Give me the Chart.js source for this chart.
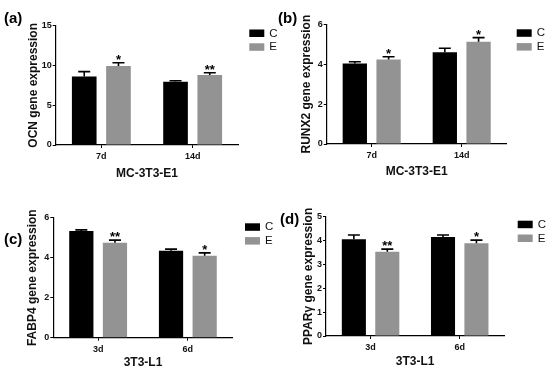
<!DOCTYPE html>
<html>
<head>
<meta charset="utf-8">
<script src="https://cdn.jsdelivr.net/npm/chart.js@4.4.1/dist/chart.umd.min.js"></script>
<style>
  html, body { margin: 0; padding: 0; background: #fff; }
  #wrap { position: relative; width: 554px; height: 378px; overflow: hidden; background: #fff; }
  canvas { position: absolute; }
</style>
</head>
<body>
<div id="wrap">
  <canvas id="pa" width="277" height="189" style="left:0;top:0"></canvas>
  <canvas id="pb" width="277" height="189" style="left:277px;top:0"></canvas>
  <canvas id="pc" width="277" height="189" style="left:0;top:189px"></canvas>
  <canvas id="pd" width="277" height="189" style="left:277px;top:189px"></canvas>
</div>
<script>
// ---------- DATA ----------
const seriesNames = ['C', 'E'];

// (a) OCN, MC-3T3-E1
const catsA = ['7d', '14d'];
const ctrlA = [8.6, 7.95];
const ctrlErrA = [0.62, 0.13];
const expA = [9.94, 8.8];
const expErrA = [0.41, 0.28];
const sigA = ['*', '**'];
const yTicksA = [0, 5, 10, 15];

// (b) RUNX2, MC-3T3-E1
const catsB = ['7d', '14d'];
const ctrlB = [4.03, 4.6];
const ctrlErrB = [0.09, 0.2];
const expB = [4.24, 5.13];
const expErrB = [0.13, 0.2];
const sigB = ['*', '*'];
const yTicksB = [0, 2, 4, 6];

// (c) FABP4, 3T3-L1
const catsC = ['3d', '6d'];
const ctrlC = [5.33, 4.35];
const ctrlErrC = [0.06, 0.08];
const expC = [4.75, 4.1];
const expErrC = [0.13, 0.14];
const sigC = ['**', '*'];
const yTicksC = [0, 2, 4, 6];

// (d) PPARγ, 3T3-L1
const catsD = ['3d', '6d'];
const ctrlD = [4.05, 4.15];
const ctrlErrD = [0.18, 0.08];
const expD = [3.53, 3.89];
const expErrD = [0.11, 0.13];
const sigD = ['**', '*'];
const yTicksD = [0, 1, 2, 3, 4, 5];

// ---------- STYLE ----------
const FONT = "'Liberation Sans', Arial, Helvetica, sans-serif";
const COL_C = '#000000';
const COL_E = '#939393';
const TXT = '#111111';

// error bars + significance marks
const errorBarPlugin = {
  id: 'errorBars',
  afterDatasetsDraw(chart) {
    const ctx = chart.ctx;
    const ys = chart.scales.y;
    ctx.save();
    chart.data.datasets.forEach((ds, i) => {
      const meta = chart.getDatasetMeta(i);
      meta.data.forEach((bar, j) => {
        const v = ds.data[j];
        const e = ds.errors ? ds.errors[j] : 0;
        const yTop = ys.getPixelForValue(v + e);
        const yBar = ys.getPixelForValue(v);
        ctx.strokeStyle = '#000';
        ctx.lineWidth = 1.6;
        ctx.beginPath();
        ctx.moveTo(bar.x, yBar);
        ctx.lineTo(bar.x, yTop);
        ctx.moveTo(bar.x - 6, yTop);
        ctx.lineTo(bar.x + 6, yTop);
        ctx.stroke();
        if (ds.sig && ds.sig[j]) {
          ctx.fillStyle = '#000';
          ctx.font = 'bold 13px ' + FONT;
          ctx.textAlign = 'center';
          ctx.textBaseline = 'alphabetic';
          ctx.fillText(ds.sig[j], bar.x, yTop + 1);
        }
      });
    });
    ctx.restore();
  }
};

// legend at the right + panel letter
const sideLegendPlugin = {
  id: 'sideLegend',
  afterDraw(chart, args, opts) {
    const ctx = chart.ctx;
    const ca = chart.chartArea;
    ctx.save();
    chart.data.datasets.forEach((ds, i) => {
      const bx = ca.right + opts.dx;
      const by = ca.top + opts.dy + i * 13.8;
      ctx.fillStyle = ds.backgroundColor;
      ctx.fillRect(bx, by, 15, 7.5);
      ctx.fillStyle = TXT;
      ctx.font = '11.5px ' + FONT;
      ctx.textAlign = 'left';
      ctx.textBaseline = 'middle';
      ctx.fillText(ds.label, bx + 20, by + 4);
    });
    ctx.fillStyle = '#000';
    ctx.font = 'bold 15px ' + FONT;
    ctx.textAlign = 'left';
    ctx.textBaseline = 'middle';
    ctx.fillText(opts.letter, opts.lx, opts.ly);
    ctx.restore();
  }
};

function makePanel(id, cats, ctrl, ctrlErr, exp, expErr, sig, yTicks, yTitle, xTitle, L) {
  const yMax = yTicks[yTicks.length - 1];
  const step = yTicks[1] - yTicks[0];
  new Chart(document.getElementById(id), {
    type: 'bar',
    data: {
      labels: cats,
      datasets: [
        { label: seriesNames[0], data: ctrl, errors: ctrlErr, sig: null,
          backgroundColor: COL_C, borderWidth: 0,
          categoryPercentage: 0.75, barPercentage: 0.72 },
        { label: seriesNames[1], data: exp, errors: expErr, sig: sig,
          backgroundColor: COL_E, borderWidth: 0,
          categoryPercentage: 0.75, barPercentage: 0.72 }
      ]
    },
    plugins: [errorBarPlugin, sideLegendPlugin],
    options: {
      responsive: false,
      animation: false,
      devicePixelRatio: 1,
      layout: { padding: { left: 0, right: 277 - L.right, top: L.top, bottom: 0 } },
      plugins: {
        legend: { display: false },
        tooltip: { enabled: false },
        title: { display: false },
        sideLegend: { dx: L.legDx, dy: L.legDy, letter: L.letter, lx: L.lx, ly: L.ly }
      },
      scales: {
        x: {
          offset: true,
          grid: { display: true, drawOnChartArea: false, drawTicks: true, tickLength: 3, color: '#000', offset: false, lineWidth: 1 },
          border: { display: true, color: '#000', width: 1.2 },
          ticks: { color: TXT, font: { family: FONT, weight: 'bold', size: 9 }, padding: 3, maxRotation: 0 },
          title: { display: true, text: xTitle, color: TXT, font: { family: FONT, weight: 'bold', size: 12 }, padding: { top: 0, bottom: L.xtPad } },
          afterFit(s) { s.height = 189 - L.bottom; }
        },
        y: {
          min: 0, max: yMax,
          grid: { display: true, drawOnChartArea: false, drawTicks: true, tickLength: 3, color: '#000', lineWidth: 1 },
          border: { display: true, color: '#000', width: 1.2 },
          ticks: { stepSize: step, color: TXT, font: { family: FONT, weight: 'bold', size: 9 }, padding: 1 },
          title: { display: true, text: yTitle, color: TXT, font: { family: FONT, weight: 'bold', size: 12 }, padding: { top: L.ytPad, bottom: 0 } },
          afterFit(s) { s.width = L.left; }
        }
      }
    }
  });
}

makePanel('pa', catsA, ctrlA, ctrlErrA, expA, expErrA, sigA, yTicksA,
  'OCN gene expression', 'MC-3T3-E1',
  { left: 55.7, right: 238.3, top: 25.7, bottom: 145, ytPad: 26.3, xtPad: 7.8, legDx: 11, legDy: 3.8, letter: '(a)', lx: 4, ly: 18.5 });
makePanel('pb', catsB, ctrlB, ctrlErrB, expB, expErrB, sigB, yTicksB,
  'RUNX2 gene expression', 'MC-3T3-E1',
  { left: 49.7, right: 229.7, top: 24.3, bottom: 144, ytPad: 22.6, xtPad: 10.1, legDx: 10, legDy: 5, letter: '(b)', lx: 1, ly: 18.5 });
makePanel('pc', catsC, ctrlC, ctrlErrC, expC, expErrC, sigC, yTicksC,
  'FABP4 gene expression', '3T3-L1',
  { left: 53.3, right: 232.7, top: 28.7, bottom: 148.7, ytPad: 25.6, xtPad: 8, legDx: 12.3, legDy: 5.6, letter: '(c)', lx: 4, ly: 51 });
makePanel('pd', catsD, ctrlD, ctrlErrD, expD, expErrD, sigD, yTicksD,
  'PPARγ gene expression', '3T3-L1',
  { left: 49, right: 227.3, top: 27.7, bottom: 147, ytPad: 24, xtPad: 9, legDx: 13.4, legDy: 4, letter: '(d)', lx: 3, ly: 31 });
</script>
</body>
</html>
